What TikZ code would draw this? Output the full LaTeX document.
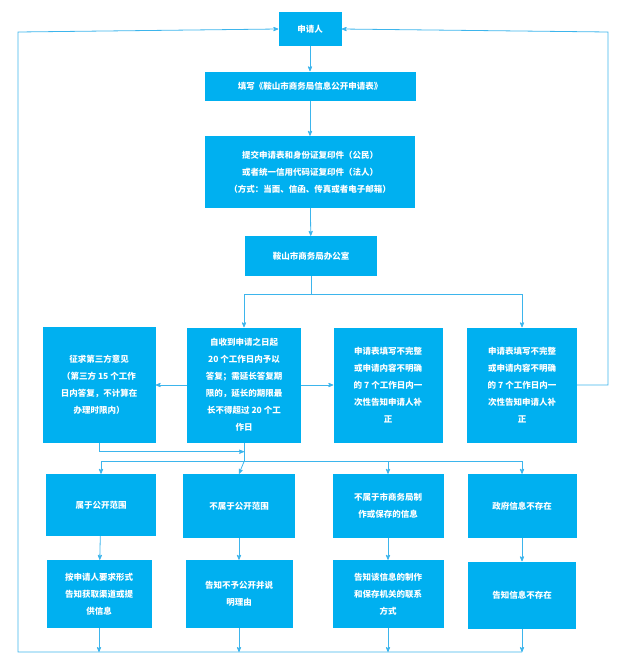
\documentclass[tikz,border=0pt]{standalone}
\usepackage{fontspec}
\setmainfont{Noto Sans CJK SC}
\usetikzlibrary{arrows,positioning,calc}
\definecolor{boxblue}{HTML}{00B0F0}
\definecolor{lineblue}{HTML}{3DB5EC}
\begin{document}
\begin{tikzpicture}[x=1pt,y=-1pt,
  stepbox/.style={rectangle, fill=boxblue, text=white, font=\fontsize{8.5}{17}\selectfont\bfseries, align=center, inner sep=2pt},
  flow/.style={draw=lineblue, line width=0.8pt, ->, >=stealth'}
]
	\useasboundingbox (0,0) rectangle (627,672);
	% top chain
	\node (applicant) [stepbox, minimum width=63pt, minimum height=34pt] at (310,29) {申请人};
	\node (form) [stepbox, minimum width=211pt, minimum height=29pt] at (310,86) {填写《鞍山市商务局信息公开申请表》};
	\node (submit) [stepbox, minimum width=210pt, minimum height=72pt] at (310,172) {提交申请表和身份证复印件（公民）\\或者统一信用代码证复印件（法人）\\（方式：当面、信函、传真或者电子邮箱）};
	\node (office) [stepbox, minimum width=132pt, minimum height=40pt] at (311,256) {鞍山市商务局办公室};
	% row 1
	\node (third) [stepbox, minimum width=113pt, minimum height=116pt] at (99,385) {征求第三方意见\\（第三方 15 个工作\\日内答复，不计算在\\办理时限内）};
	\node (reply) [stepbox, minimum width=114pt, minimum height=115pt] at (244,385) {自收到申请之日起\\20 个工作日内予以\\答复；需延长答复期\\限的，延长的期限最\\长不得超过 20 个工\\作日};
	\node (supp1) [stepbox, minimum width=109pt, minimum height=115pt] at (388,385) {申请表填写不完整\\或申请内容不明确\\的 7 个工作日内一\\次性告知申请人补\\正};
	\node (supp2) [stepbox, minimum width=110pt, minimum height=115pt] at (522,385) {申请表填写不完整\\或申请内容不明确\\的 7 个工作日内一\\次性告知申请人补\\正};
	% row 2
	\node (open) [stepbox, minimum width=110pt, minimum height=62pt] at (101,505) {属于公开范围};
	\node (notopen) [stepbox, minimum width=112pt, minimum height=64pt] at (239,506) {不属于公开范围};
	\node (notmade) [stepbox, minimum width=111pt, minimum height=64pt] at (388,506) {不属于市商务局制\\作或保存的信息};
	\node (noinfo) [stepbox, minimum width=109pt, minimum height=64pt] at (522,506) {政府信息不存在};
	% row 3
	\node (provide) [stepbox, minimum width=105pt, minimum height=68pt] at (99,594) {按申请人要求形式\\告知获取渠道或提\\供信息};
	\node (refuse) [stepbox, minimum width=107pt, minimum height=68pt] at (239,594) {告知不予公开并说\\明理由};
	\node (contact) [stepbox, minimum width=111pt, minimum height=68pt] at (388,594) {告知该信息的制作\\和保存机关的联系\\方式};
	\node (absent) [stepbox, minimum width=108pt, minimum height=67pt] at (522,595) {告知信息不存在};
	% connectors
	\draw[flow] (applicant) -- (form);
	\draw[flow] (form) -- (submit);
	\draw[flow] (submit) -- (office);
	\coordinate (split) at (office.south |- 0,294);
	\draw[flow] (office.south) -- (split) -| (reply.north);
	\draw[flow] (split) -| (supp2.north);
	\draw[flow] (reply) -- (third);
	\draw[flow] (reply) -- (supp1);
	\draw[flow] (supp2.east) -| (608,32) -- (applicant.east);
	\draw[flow] (third.south) |- ($(reply.south)+(0,9)$);
	\coordinate (fan) at ($(reply.south)+(0,19)$);
	\draw[flow] (reply.south) -- (fan) -| (open.north);
	\draw[flow] (fan) -- (notopen.north);
	\draw[flow] (fan) -| (notmade.north);
	\draw[flow] (fan) -| (noinfo.north);
	\foreach \a/\b in {open/provide, notopen/refuse, notmade/contact, noinfo/absent}
		\draw[flow] (\a) -- (\b);
	\coordinate (base) at (absent.south |- 0,652);
	\foreach \a in {provide, refuse, contact, absent}
		\draw[flow] (\a.south) -- (\a.south |- base);
	\draw[flow] (base) -| (18,32) -- (applicant.west);
\end{tikzpicture}
\end{document}
